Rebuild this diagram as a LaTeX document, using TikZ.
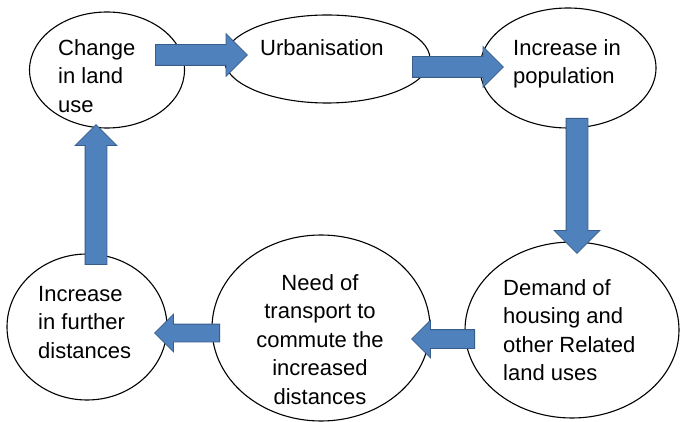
\documentclass[tikz,border=0pt]{standalone}
\usepackage{fontspec}
\setmainfont{Liberation Sans}
\usetikzlibrary{shapes.geometric,shapes.arrows}
\definecolor{arrowfill}{HTML}{4F81BD}
\definecolor{arrowline}{HTML}{385D8A}
\begin{document}
\begin{tikzpicture}[x=1pt,y=-1pt,
  bubble/.style={ellipse,draw=black,line width=1.1pt,fill=white,inner sep=0pt},
  bubbletext/.style={inner sep=0pt,font=\fontsize{22}{28.5}\selectfont},
  flowarrow/.style={single arrow,draw=arrowline,fill=arrowfill,line width=0.8pt,
    inner sep=0pt,single arrow head indent=0pt,anchor=tail}
]
\useasboundingbox (0,0) rectangle (683,422);

% the six stages of the cycle
\node[bubble,minimum width=155pt,minimum height=116pt] (land)   at (107,70)  {};
\node[bubble,minimum width=206pt,minimum height=88pt]  (urban)  at (327,59)  {};
\node[bubble,minimum width=176pt,minimum height=120pt] (pop)    at (568,68)  {};
\node[bubble,minimum width=214pt,minimum height=176pt] (demand) at (572,330) {};
\node[bubble,minimum width=218pt,minimum height=186pt] (need)   at (321,328) {};
\node[bubble,minimum width=160pt,minimum height=146pt] (dist)   at (87,327)  {};

% block arrows linking the stages
\node[flowarrow,inner ysep=10pt,single arrow head extend=11pt,minimum height=92pt]
  (a1) at (155,55) {};
\node[flowarrow,inner ysep=10pt,single arrow head extend=10pt,minimum height=91pt]
  (a2) at (412,67) {};
\node[flowarrow,rotate=-90,inner ysep=10.5pt,single arrow head extend=12pt,minimum height=135pt]
  (a3) at (577,118) {};
\node[flowarrow,rotate=180,inner ysep=9pt,single arrow head extend=9.5pt,minimum height=63pt]
  (a4) at (475,339) {};
\node[flowarrow,rotate=180,inner ysep=8.5pt,single arrow head extend=10pt,minimum height=65pt]
  (a5) at (220,333) {};
\node[flowarrow,rotate=90,inner ysep=10.5pt,single arrow head extend=10pt,minimum height=140pt]
  (a6) at (96,265) {};

% stage texts
\node[bubbletext,align=left,anchor=north west]  (tland)   at (58,39)   {Change\\in land\\use};
\node[bubbletext,anchor=base]                   (turban)  at (322,56)  {Urbanisation};
\node[bubbletext,align=left,anchor=north west]  (tpop)    at (513,39)  {Increase in\\population};
\node[bubbletext,align=left,anchor=north west]  (tdemand) at (503,279) {Demand of\\housing and\\other Related\\land uses};
\node[bubbletext,align=center,anchor=north]     (tneed)   at (320,274) {Need of\\transport to\\commute the\\increased\\distances};
\node[bubbletext,align=left,anchor=north west]  (tdist)   at (38,286)  {Increase\\in further\\distances};
\end{tikzpicture}
\end{document}
